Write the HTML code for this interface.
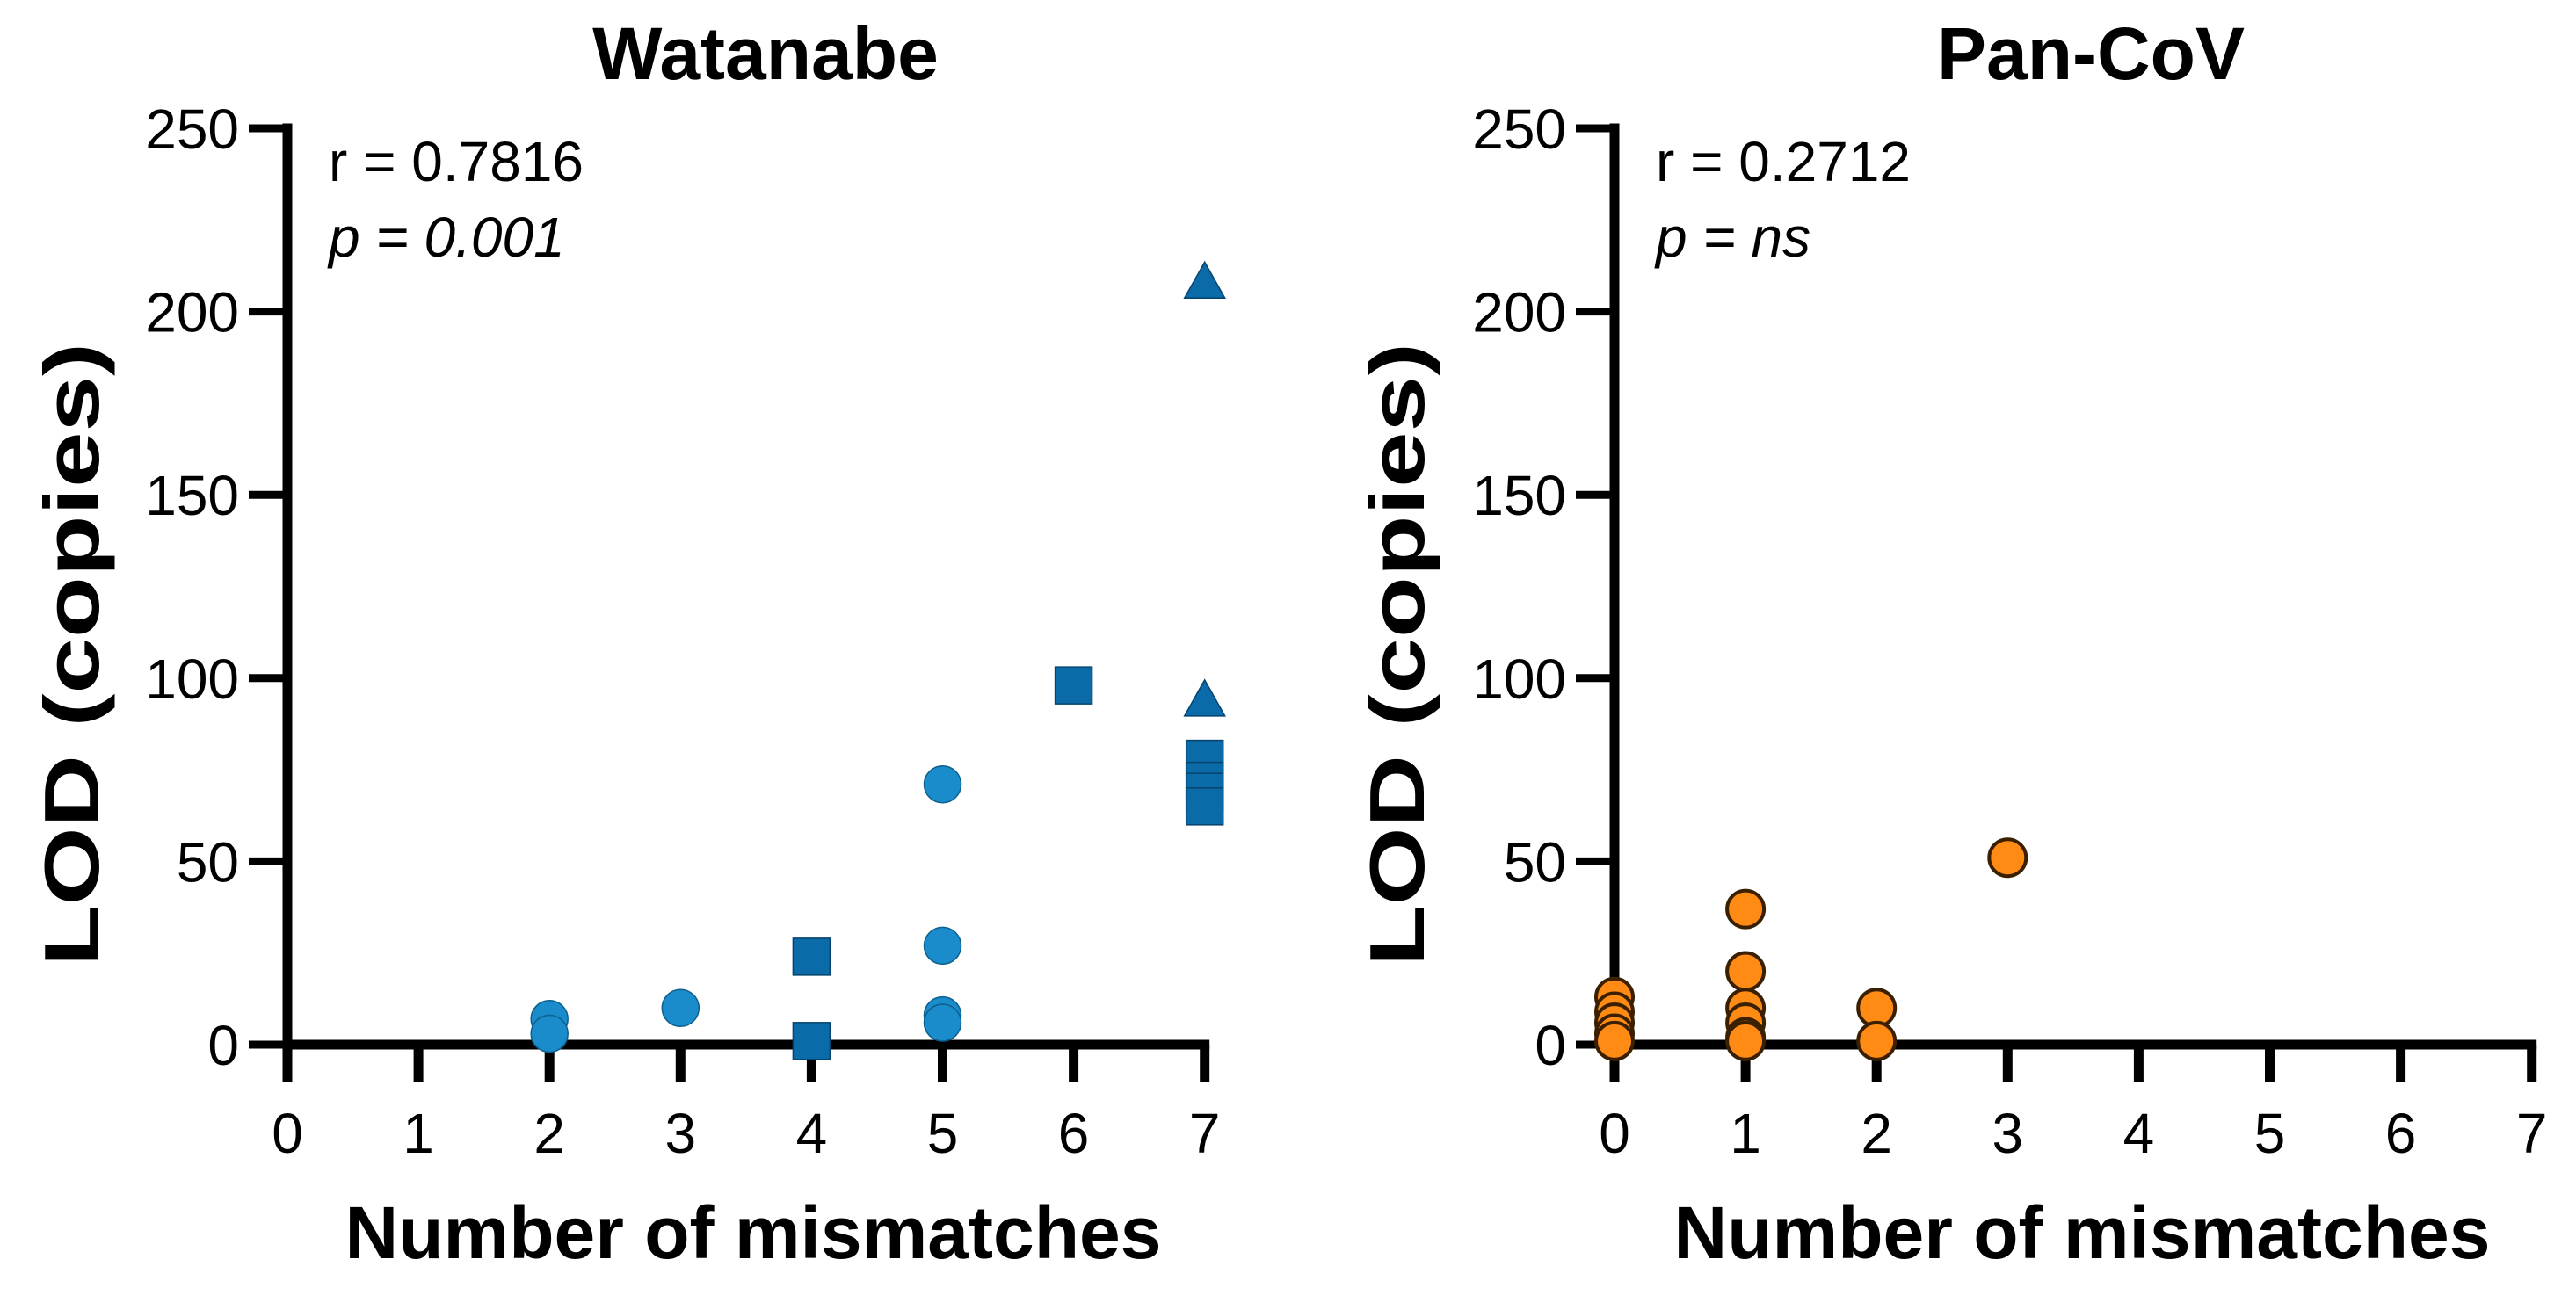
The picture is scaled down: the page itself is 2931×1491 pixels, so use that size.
<!DOCTYPE html>
<html><head><meta charset="utf-8"><style>
html,body{margin:0;padding:0;background:#fff;}
svg{display:block;font-family:"Liberation Sans",Arial,sans-serif;}
</style></head><body>
<svg id="fig" width="2931" height="1491" viewBox="0 0 2931 1491" xmlns="http://www.w3.org/2000/svg"></svg>
<script>
const xTicks = [0,1,2,3,4,5,6,7];
const yTicks = [0,50,100,150,200,250];
// Watanabe series
const wCircleX = [2,2,3,5,5,5,5];
const wCircleY = [7,3,10,71,27,8,6];
const wSquareX = [4,4,6,7,7,7,7];
const wSquareY = [24,1,98,78,72,69,65];
const wTriX = [7,7];
const wTriY = [208,94];
// Pan-CoV series
const pX = [0,0,0,0,0,1,1,1,1,1,1,2,2,3];
const pY = [13,9,6,3,1,37,20,10,6,2,1,10,1,51];

const NS = "http://www.w3.org/2000/svg";
const svg = document.getElementById('fig');
function mk(tag, attrs, parent){
  const e = document.createElementNS(NS, tag);
  for (const k in attrs) e.setAttribute(k, attrs[k]);
  (parent||svg).appendChild(e);
  return e;
}
const X_UNIT = 149.1, Y0 = 1189, Y_UNIT = (1189-146)/250;

function panel(ox, name, title, rText, pText, tickRight, titleX, xtitleX, ytitleX){
  const g = mk('g', {});
  
  
  const sx = v => ox + v*X_UNIT;
  const sy = v => Y0 - v*Y_UNIT;
  const t = mk('text', {x:titleX, y:90, 'text-anchor':'middle', 'font-size':84, 'font-weight':'bold'}, g);
  t.textContent = title;
  
  
  const ya = mk('line', {x1:ox, y1:sy(250)-5.5, x2:ox, y2:Y0+5.5, stroke:'#000', 'stroke-width':11}, g);
  
  
  const xa = mk('line', {x1:ox-5.5, y1:Y0, x2:sx(7)+5.5, y2:Y0, stroke:'#000', 'stroke-width':11}, g);
  
  
  yTicks.forEach(v => {
    const l = mk('line', {x1:ox-44, y1:sy(v), x2:ox, y2:sy(v), stroke:'#000', 'stroke-width':9}, g);
    
    
    const tx = mk('text', {x:tickRight, y:sy(v)+23, 'text-anchor':'end', 'font-size':64}, g);
    tx.textContent = v;
    
    
  });
  xTicks.forEach(v => {
    const l = mk('line', {x1:sx(v), y1:Y0, x2:sx(v), y2:Y0+43, stroke:'#000', 'stroke-width':11}, g);
    
    
    const tx = mk('text', {x:sx(v), y:1312, 'text-anchor':'middle', 'font-size':64}, g);
    tx.textContent = v;
    
    
  });
  const xt = mk('text', {x:xtitleX, y:1432, 'text-anchor':'middle', 'font-size':84, 'font-weight':'bold'}, g);
  xt.textContent = 'Number of mismatches';
  
  
  const yt = mk('text', {x:0, y:0, 'text-anchor':'middle', 'font-size':88, 'font-weight':'bold', textLength:710, lengthAdjust:'spacingAndGlyphs', transform:`translate(${ytitleX+32},745) rotate(-90)`}, g);
  yt.textContent = 'LOD (copies)';
  
  
  const r = mk('text', {x:ox+47, y:206, 'font-size':64}, g);
  r.textContent = rText;
  
  
  const p = mk('text', {x:ox+47, y:292, 'font-size':64, 'font-style':'italic'}, g);
  p.textContent = pText;
  
  
  return {g, sx, sy};
}

const L = panel(327, 'watanabe', 'Watanabe', 'r = 0.7816', 'p = 0.001', 272, 871, 857, 80);
wCircleX.forEach((x,i) => {
  const c = mk('circle', {cx:L.sx(x), cy:L.sy(wCircleY[i]), r:21, fill:'#1a8ccb', stroke:'#0d5f8c', 'stroke-width':1.5}, L.g);
  
  
});
wSquareX.forEach((x,i) => {
  const c = mk('rect', {x:L.sx(x)-21, y:L.sy(wSquareY[i])-21, width:42, height:42, fill:'#0b6aa8', stroke:'#06446d', 'stroke-width':1.5}, L.g);
  
  
});
wTriX.forEach((x,i) => {
  const cx = L.sx(x), cy = L.sy(wTriY[i]);
  const c = mk('polygon', {points:`${cx},${cy-23} ${cx+23},${cy+18} ${cx-23},${cy+18}`, fill:'#0b6aa8', stroke:'#06446d', 'stroke-width':1.5}, L.g);
  
  
});

const R = panel(1837, 'pan-cov', 'Pan-CoV', 'r = 0.2712', 'p = ns', 1782, 2379, 2369, 1588);
pX.forEach((x,i) => {
  const c = mk('circle', {cx:R.sx(x), cy:R.sy(pY[i]), r:21, fill:'#ff8a14', stroke:'#3a2000', 'stroke-width':4}, R.g);
  
  
});
</script>
</body></html>
